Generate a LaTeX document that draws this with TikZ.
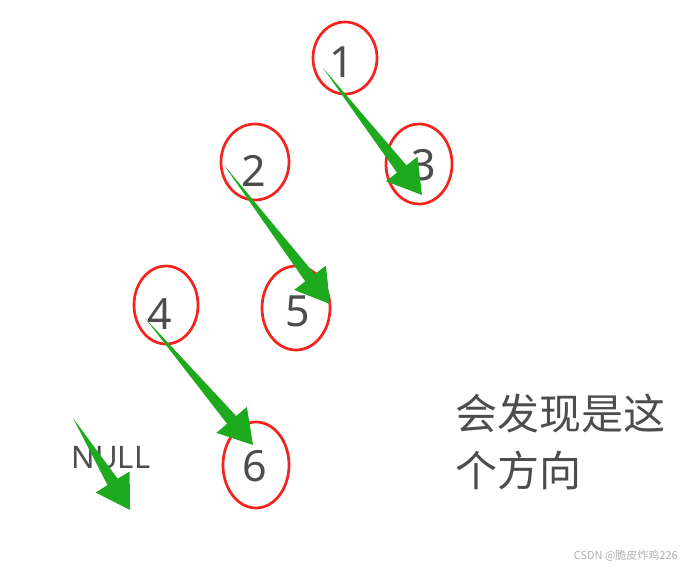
\documentclass[tikz,border=0pt]{standalone}
\usepackage{fontspec}
\setmainfont{Noto Sans}
\newfontfamily\cjk{Noto Sans CJK SC}
\usetikzlibrary{shapes.geometric,calc}
\definecolor{ringred}{HTML}{F5231E}
\definecolor{arrgreen}{HTML}{1EAA1E}
\definecolor{txtgray}{HTML}{4D4D4D}
\definecolor{wmgray}{HTML}{B0B0B0}
\tikzset{
  ring/.style={draw=ringred, line width=2.7pt, ellipse, inner sep=0pt},
  digit/.style={text=txtgray, font=\fontsize{43}{43}\selectfont, inner sep=0pt},
  cjktext/.style={text=txtgray, font=\cjk\fontsize{42}{42}\selectfont, inner sep=0pt, anchor=west},
}
\newcommand\fatarrow[2]{%
  \coordinate (m#1#2) at ($(#2)!33pt!(#1)$);
  \fill[arrgreen] (#1) -- ($(m#1#2)!6pt!90:(#2)$) -- ($(m#1#2)!20pt!90:(#2)$) -- (#2)
    -- ($(m#1#2)!20pt!-90:(#2)$) -- ($(m#1#2)!6pt!-90:(#2)$) -- cycle;}
\begin{document}
\begin{tikzpicture}[x=1pt,y=-1pt]
\useasboundingbox (0,0) rectangle (687,571);
% rings
\node[ring, minimum width=64pt, minimum height=72pt] (r1) at (345,58) {};
\node[ring, minimum width=66pt, minimum height=80pt] (r3) at (419,164) {};
\node[ring, minimum width=68pt, minimum height=76pt] (r2) at (255,162) {};
\node[ring, minimum width=68pt, minimum height=84pt] (r5) at (296,308) {};
\node[ring, minimum width=64pt, minimum height=78pt] (r4) at (166,305) {};
\node[ring, minimum width=66pt, minimum height=86pt] (r6) at (256,465) {};
% digits
\node[digit] (d1) at (342,62) {1};
\node[digit] (d3) at (424,165) {3};
\node[digit] (d2) at (254,171) {2};
\node[digit] (d5) at (298,311) {5};
\node[digit] (d4) at (160,314) {4};
\node[digit] (d6) at (255,466) {6};
\node[text=txtgray, font=\fontsize{31}{31}\selectfont, inner sep=0pt] (null) at (111,458) {NULL};
% arrow endpoints
\coordinate (s1) at (323,68);  \coordinate (t1) at (422,195);
\coordinate (s2) at (224,165); \coordinate (t2) at (330,304);
\coordinate (s4) at (145,318); \coordinate (t4) at (253,445);
\coordinate (s0) at (73,418);  \coordinate (t0) at (130,510);
\fatarrow{s1}{t1}
\fatarrow{s2}{t2}
\fatarrow{s4}{t4}
\fatarrow{s0}{t0}
% text
\node[cjktext] (c1) at (455,413) {会发现是这};
\node[cjktext] (c2) at (455,470) {个方向};
\node[text=wmgray, font=\cjk\fontsize{11}{11}\selectfont, inner sep=0pt, anchor=east] (wm) at (678,556) {CSDN @脆皮炸鸡226};
\end{tikzpicture}
\end{document}
